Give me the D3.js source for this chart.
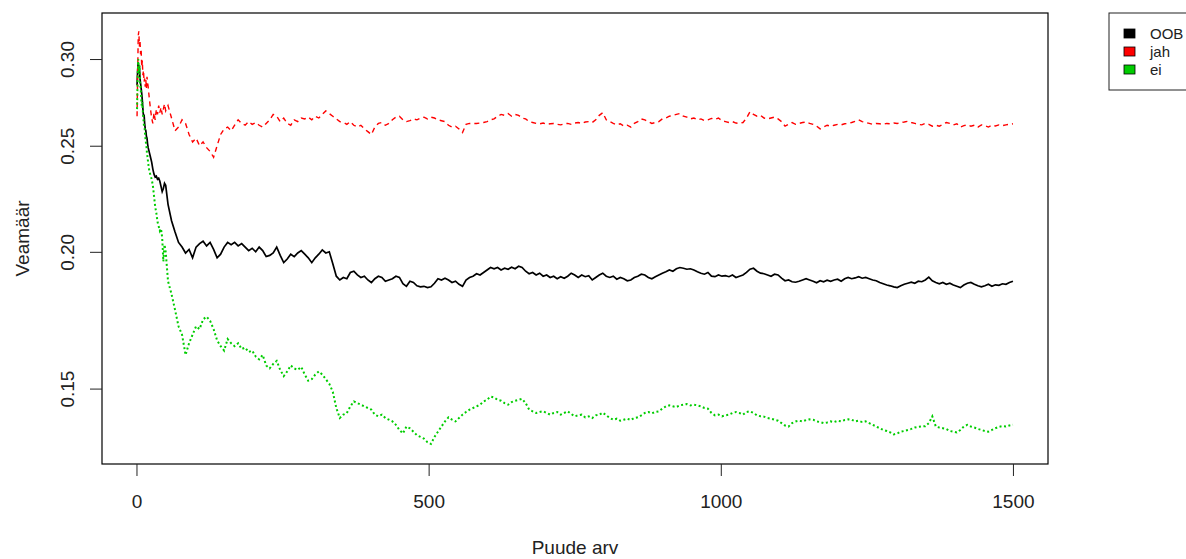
<!DOCTYPE html>
<html>
<head>
<meta charset="utf-8">
<script src="https://cdn.jsdelivr.net/npm/d3@7/dist/d3.min.js"></script>
<style>
  html, body { margin: 0; padding: 0; background: #fff; }
  svg { display: block; font-family: "Liberation Sans", Arial, sans-serif; }
</style>
</head>
<body>
<svg id="chart" width="1186" height="559"></svg>
<script>
const trees = [...d3.range(1, 21), ...d3.range(22, 51, 2), ...d3.range(54, 1501, 6)];

const oob = [
  0.284, 0.293, 0.298, 0.291, 0.296, 0.288, 0.285, 0.282, 0.279, 0.275,
  0.270, 0.266, 0.267, 0.262, 0.259, 0.258, 0.255, 0.254, 0.251, 0.249,
  0.2465, 0.2440, 0.2415, 0.2380, 0.2355, 0.2340, 0.2345, 0.2330, 0.2335, 0.2320,
  0.2295, 0.2270, 0.2285, 0.2310, 0.2300,
  0.2210, 0.2135, 0.2085, 0.2040, 0.2020, 0.1995, 0.2010, 0.1975, 0.2020, 0.2035,
  0.2045, 0.2025, 0.2040, 0.2010, 0.1975, 0.1990, 0.2020, 0.2040, 0.2030, 0.2040,
  0.2025, 0.2035, 0.2020, 0.2005, 0.2015, 0.2000, 0.2020, 0.2005, 0.1980, 0.1985,
  0.1995, 0.2020, 0.1985, 0.1955, 0.1970, 0.1990, 0.1980, 0.1995, 0.2005, 0.1990,
  0.1975, 0.1955, 0.1975, 0.1990, 0.2008, 0.1995, 0.2000, 0.1950, 0.1900, 0.1885,
  0.1895, 0.1890, 0.1915, 0.1920, 0.1905, 0.1895, 0.1900, 0.1885, 0.1875, 0.1890,
  0.1900, 0.1895, 0.1880, 0.1885, 0.1890, 0.1900, 0.1895, 0.1870, 0.1860, 0.1880,
  0.1875, 0.1862, 0.1858, 0.1860, 0.1855, 0.1858, 0.1872, 0.1890, 0.1885, 0.1892,
  0.1885, 0.1875, 0.1880, 0.1868, 0.1860, 0.1885, 0.1895, 0.1900, 0.1910, 0.1905,
  0.1915, 0.1925, 0.1935, 0.1930, 0.1935, 0.1925, 0.1932, 0.1928, 0.1936, 0.1930,
  0.1940, 0.1935, 0.1920, 0.1910, 0.1915, 0.1905, 0.1912, 0.1900, 0.1905, 0.1895,
  0.1900, 0.1890, 0.1898, 0.1892, 0.1900, 0.1912, 0.1905, 0.1895, 0.1905, 0.1898,
  0.1902, 0.1885, 0.1895, 0.1905, 0.1912, 0.1900, 0.1895, 0.1900, 0.1888, 0.1895,
  0.1890, 0.1882, 0.1885, 0.1895, 0.1900, 0.1908, 0.1905, 0.1895, 0.1890, 0.1898,
  0.1905, 0.1912, 0.1918, 0.1925, 0.1920, 0.1930, 0.1935, 0.1932, 0.1928, 0.1930,
  0.1925, 0.1918, 0.1912, 0.1908, 0.1915, 0.1900, 0.1898, 0.1905, 0.1900, 0.1902,
  0.1898, 0.1905, 0.1895, 0.1900, 0.1905, 0.1915, 0.1928, 0.1932, 0.1920, 0.1912,
  0.1910, 0.1905, 0.1900, 0.1908, 0.1905, 0.1892, 0.1882, 0.1885, 0.1878, 0.1876,
  0.1880, 0.1885, 0.1890, 0.1885, 0.1880, 0.1874, 0.1882, 0.1878, 0.1884, 0.1880,
  0.1885, 0.1888, 0.1880, 0.1890, 0.1895, 0.1890, 0.1893, 0.1898, 0.1892, 0.1895,
  0.1890, 0.1885, 0.1882, 0.1875, 0.1870, 0.1865, 0.1862, 0.1858, 0.1855, 0.1862,
  0.1868, 0.1872, 0.1876, 0.1872, 0.1880, 0.1878, 0.1885, 0.1896, 0.1882, 0.1875,
  0.1870, 0.1875, 0.1868, 0.1872, 0.1865, 0.1860, 0.1855, 0.1865, 0.1872, 0.1875,
  0.1868, 0.1862, 0.1858, 0.1862, 0.1868, 0.1860, 0.1866, 0.1864, 0.1870, 0.1868,
  0.1875, 0.1880
];

const jah = [
  0.2660, 0.2900, 0.3150, 0.3180, 0.3080, 0.3120, 0.3030, 0.3060, 0.2950, 0.2990,
  0.2900, 0.2930, 0.2860, 0.2880, 0.2830, 0.2870, 0.2820, 0.2890, 0.2860, 0.2830,
  0.2760, 0.2700, 0.2650, 0.2620, 0.2680, 0.2640, 0.2700, 0.2670, 0.2720, 0.2680,
  0.2710, 0.2670, 0.2700, 0.2730, 0.2690,
  0.2720, 0.2650, 0.2580, 0.2600, 0.2640, 0.2620, 0.2560, 0.2520, 0.2540, 0.2500,
  0.2520, 0.2490, 0.2470, 0.2440, 0.2500, 0.2560, 0.2590, 0.2600, 0.2580, 0.2610,
  0.2640, 0.2620, 0.2610, 0.2630, 0.2615, 0.2625, 0.2610, 0.2600, 0.2620, 0.2640,
  0.2670, 0.2660, 0.2630, 0.2650, 0.2620, 0.2610, 0.2640, 0.2630, 0.2650, 0.2645,
  0.2655, 0.2640, 0.2660, 0.2650, 0.2670, 0.2690, 0.2675, 0.2660, 0.2645, 0.2630,
  0.2625, 0.2615, 0.2630, 0.2610, 0.2600, 0.2610, 0.2590, 0.2575, 0.2560, 0.2600,
  0.2620, 0.2625, 0.2610, 0.2620, 0.2640, 0.2655, 0.2660, 0.2640, 0.2630, 0.2635,
  0.2645, 0.2640, 0.2650, 0.2655, 0.2645, 0.2655, 0.2650, 0.2640, 0.2635, 0.2630,
  0.2610, 0.2600, 0.2605, 0.2590, 0.2570, 0.2615, 0.2620, 0.2620, 0.2620, 0.2622,
  0.2625, 0.2630, 0.2640, 0.2645, 0.2660, 0.2670, 0.2665, 0.2675, 0.2660, 0.2670,
  0.2665, 0.2650, 0.2645, 0.2630, 0.2625, 0.2620, 0.2618, 0.2622, 0.2615, 0.2618,
  0.2620, 0.2615, 0.2612, 0.2618, 0.2620, 0.2615, 0.2622, 0.2625, 0.2620, 0.2628,
  0.2630, 0.2625, 0.2640, 0.2665, 0.2680, 0.2640, 0.2630, 0.2620, 0.2612, 0.2618,
  0.2605, 0.2610, 0.2600, 0.2620, 0.2630, 0.2645, 0.2640, 0.2630, 0.2620, 0.2625,
  0.2630, 0.2645, 0.2650, 0.2660, 0.2665, 0.2670, 0.2675, 0.2660, 0.2655, 0.2645,
  0.2650, 0.2640, 0.2645, 0.2635, 0.2640, 0.2648, 0.2642, 0.2650, 0.2635, 0.2630,
  0.2625, 0.2630, 0.2622, 0.2620, 0.2625, 0.2650, 0.2685, 0.2670, 0.2660, 0.2665,
  0.2650, 0.2645, 0.2650, 0.2655, 0.2645, 0.2630, 0.2605, 0.2615, 0.2625, 0.2615,
  0.2620, 0.2625, 0.2628, 0.2620, 0.2615, 0.2605, 0.2590, 0.2600, 0.2610, 0.2605,
  0.2610, 0.2615, 0.2612, 0.2618, 0.2620, 0.2625, 0.2632, 0.2640, 0.2630, 0.2625,
  0.2620, 0.2615, 0.2620, 0.2618, 0.2615, 0.2620, 0.2618, 0.2622, 0.2620, 0.2625,
  0.2628, 0.2632, 0.2625, 0.2620, 0.2615, 0.2612, 0.2620, 0.2615, 0.2605, 0.2610,
  0.2605, 0.2615, 0.2625, 0.2620, 0.2612, 0.2618, 0.2600, 0.2608, 0.2612, 0.2605,
  0.2610, 0.2600, 0.2612, 0.2608, 0.2600, 0.2610, 0.2606, 0.2612, 0.2608, 0.2612,
  0.2615, 0.2618
];

const ei = [
  0.2700, 0.2880, 0.3000, 0.2920, 0.2960, 0.2850, 0.2830, 0.2770, 0.2720, 0.2740,
  0.2680, 0.2640, 0.2600, 0.2590, 0.2550, 0.2520, 0.2500, 0.2460, 0.2440, 0.2410,
  0.2370, 0.2350, 0.2330, 0.2300, 0.2250, 0.2200, 0.2170, 0.2130, 0.2110, 0.2090,
  0.2100, 0.2060, 0.1960, 0.2030, 0.2000,
  0.1880, 0.1830, 0.1770, 0.1710, 0.1680, 0.1610, 0.1650, 0.1680, 0.1710, 0.1700,
  0.1735, 0.1745, 0.1730, 0.1700, 0.1660, 0.1640, 0.1625, 0.1665, 0.1650, 0.1640,
  0.1650, 0.1630, 0.1635, 0.1620, 0.1625, 0.1605, 0.1595, 0.1610, 0.1575, 0.1565,
  0.1580, 0.1590, 0.1560, 0.1540, 0.1555, 0.1575, 0.1565, 0.1560, 0.1570, 0.1545,
  0.1525, 0.1530, 0.1545, 0.1555, 0.1545, 0.1530, 0.1515, 0.1490, 0.1440, 0.1410,
  0.1420, 0.1425, 0.1445, 0.1460, 0.1455, 0.1450, 0.1445, 0.1440, 0.1435, 0.1420,
  0.1415, 0.1420, 0.1410, 0.1405, 0.1400, 0.1390, 0.1375, 0.1365, 0.1385, 0.1380,
  0.1370, 0.1360, 0.1355, 0.1350, 0.1340, 0.1335, 0.1355, 0.1370, 0.1385, 0.1400,
  0.1412, 0.1405, 0.1400, 0.1410, 0.1420, 0.1428, 0.1435, 0.1440, 0.1445, 0.1450,
  0.1460, 0.1465, 0.1475, 0.1472, 0.1465, 0.1462, 0.1455, 0.1450, 0.1458, 0.1462,
  0.1465, 0.1468, 0.1455, 0.1435, 0.1430, 0.1425, 0.1428, 0.1430, 0.1425, 0.1420,
  0.1425, 0.1428, 0.1420, 0.1425, 0.1430, 0.1422, 0.1415, 0.1418, 0.1420, 0.1412,
  0.1415, 0.1410, 0.1418, 0.1420, 0.1426, 0.1418, 0.1410, 0.1405, 0.1408, 0.1402,
  0.1405, 0.1408, 0.1404, 0.1410, 0.1412, 0.1418, 0.1425, 0.1428, 0.1424, 0.1428,
  0.1430, 0.1438, 0.1445, 0.1448, 0.1445, 0.1443, 0.1448, 0.1450, 0.1452, 0.1448,
  0.1450, 0.1448, 0.1445, 0.1440, 0.1438, 0.1425, 0.1418, 0.1420, 0.1415, 0.1418,
  0.1420, 0.1425, 0.1428, 0.1425, 0.1420, 0.1428, 0.1430, 0.1425, 0.1418, 0.1415,
  0.1414, 0.1410, 0.1408, 0.1405, 0.1402, 0.1395, 0.1388, 0.1385, 0.1395, 0.1400,
  0.1402, 0.1400, 0.1404, 0.1406, 0.1405, 0.1400, 0.1398, 0.1395, 0.1397, 0.1400,
  0.1398, 0.1402, 0.1400, 0.1404, 0.1406, 0.1405, 0.1400, 0.1402, 0.1398, 0.1400,
  0.1395, 0.1390, 0.1385, 0.1380, 0.1375, 0.1372, 0.1368, 0.1362, 0.1365, 0.1370,
  0.1372, 0.1375, 0.1378, 0.1382, 0.1384, 0.1385, 0.1386, 0.1395, 0.1415, 0.1385,
  0.1382, 0.1380, 0.1378, 0.1372, 0.1370, 0.1368, 0.1375, 0.1385, 0.1390, 0.1385,
  0.1382, 0.1378, 0.1375, 0.1372, 0.1370, 0.1375, 0.1380, 0.1384, 0.1386, 0.1385,
  0.1388, 0.1390
];

const seriesNames = ["OOB", "jah", "ei"];
const seriesColors = ["#000000", "#ff0000", "#00cd00"];
const seriesDash = [null, "5,4", "2,2.5"];
const seriesWidth = [1.7, 1.4, 2];
const xTicks = [0, 500, 1000, 1500];
const yTicks = [0.15, 0.20, 0.25, 0.30];
const xLabel = "Puude arv";
const yLabel = "Veamäär";

const plot = { left: 102, right: 1048, top: 13, bottom: 464 };

const svg = d3.select("#chart");

const x = d3.scaleLinear().domain([-59, 1560]).range([plot.left, plot.right]);
const y = d3.scaleLog().domain([0.128, 0.3305]).range([plot.bottom, plot.top]);

svg.append("clipPath").attr("id", "plot-clip")
  .append("rect")
  .attr("x", plot.left).attr("y", plot.top)
  .attr("width", plot.right - plot.left).attr("height", plot.bottom - plot.top);

const lineLayer = svg.append("g").attr("clip-path", "url(#plot-clip)");

[oob, jah, ei].forEach((values, k) => {
  const line = d3.line()
    .x((d, i) => x(trees[i]))
    .y((d) => y(d));
  lineLayer.append("path")
    .datum(values)
    .attr("fill", "none")
    .attr("stroke", seriesColors[k])
    .attr("stroke-width", seriesWidth[k])
    .attr("stroke-dasharray", seriesDash[k])
    .attr("d", line);
});

// box
svg.append("rect")
  .attr("x", plot.left).attr("y", plot.top)
  .attr("width", plot.right - plot.left).attr("height", plot.bottom - plot.top)
  .attr("fill", "none").attr("stroke", "#000").attr("stroke-width", 1.2);

const xAxis = svg.append("g")
  .attr("transform", `translate(0,${plot.bottom})`)
  .call(d3.axisBottom(x).tickValues(xTicks).tickSize(12).tickFormat(d3.format("d")));
xAxis.select(".domain").remove();
xAxis.selectAll("line").attr("stroke", "#222");
xAxis.selectAll("text")
  .attr("y", 44).attr("dy", 0)
  .attr("fill", "#222")
  .style("font-size", "19px")
  .style("font-family", "'Liberation Sans', Arial, sans-serif");

const yAxis = svg.append("g")
  .attr("transform", `translate(${plot.left},0)`)
  .call(d3.axisLeft(y).tickValues(yTicks).tickSize(12).tickFormat(d3.format(".2f")));
yAxis.select(".domain").remove();
yAxis.selectAll("line").attr("stroke", "#222");
yAxis.selectAll("text")
  .attr("x", 0).attr("y", 0).attr("dy", 0)
  .attr("transform", "translate(-28,0) rotate(-90)")
  .attr("text-anchor", "middle")
  .attr("fill", "#222")
  .style("font-size", "19px")
  .style("font-family", "'Liberation Sans', Arial, sans-serif");

svg.append("text")
  .attr("x", (plot.left + plot.right) / 2).attr("y", 554)
  .attr("text-anchor", "middle")
  .attr("fill", "#222")
  .style("font-size", "19px")
  .text(xLabel);

svg.append("text")
  .attr("transform", `translate(29,${(plot.top + plot.bottom) / 2}) rotate(-90)`)
  .attr("text-anchor", "middle")
  .attr("fill", "#222")
  .style("font-size", "19px")
  .text(yLabel);

// legend
const legend = svg.append("g");
legend.append("rect")
  .attr("x", 1109).attr("y", 13).attr("width", 120).attr("height", 77)
  .attr("fill", "#fff").attr("stroke", "#222").attr("stroke-width", 1);
const rowY = [34, 52, 70];
seriesNames.forEach((name, k) => {
  legend.append("rect")
    .attr("x", 1124).attr("y", rowY[k] - 5).attr("width", 11).attr("height", 9)
    .attr("fill", seriesColors[k]).attr("stroke", "#000").attr("stroke-width", 0.8);
  legend.append("text")
    .attr("x", 1150).attr("y", rowY[k] + 5)
    .attr("fill", "#222")
    .style("font-size", "15px")
    .text(name);
});
</script>
</body>
</html>
